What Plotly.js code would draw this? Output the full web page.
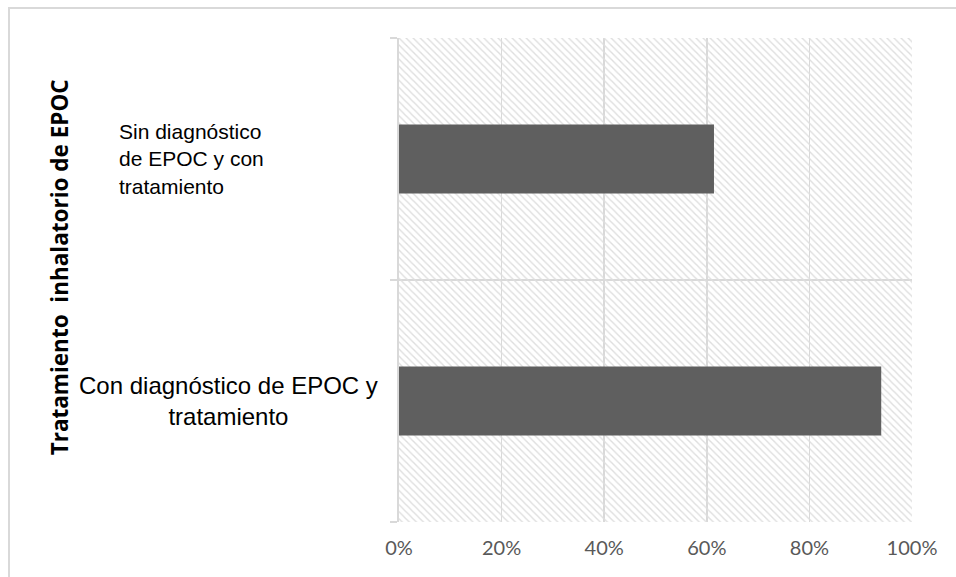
<!DOCTYPE html>
<html>
<head>
<meta charset="utf-8">
<script src="https://cdn.plot.ly/plotly-3.0.1.min.js"></script>
<style>
  html, body { margin: 0; padding: 0; background: #ffffff; }
  #chart { width: 956px; height: 577px; position: relative; }
  /* thin frame around the chart area (top and left edges) */
  #frame {
    position: absolute; left: 8px; top: 7px; right: -4px; bottom: -4px;
    border-top: 2px solid #d9d9d9; border-left: 2px solid #d9d9d9;
    pointer-events: none;
  }
</style>
</head>
<body>
<div id="chart"></div>
<div id="frame"></div>
<script>
// Categories, bottom to top
const categories = [
  "Con diagnóstico de EPOC y tratamiento",
  "Sin diagnóstico de EPOC y con tratamiento"
];
// Category labels as displayed (with line breaks)
const categoryLabels = [
  "Con diagnóstico de EPOC y<br>tratamiento",
  "Sin diagnóstico<br>de EPOC y con<br>tratamiento"
];
// Share of patients (fraction)
const shares = [0.94, 0.614];

// Axis ticks
const tickValues = [0, 0.2, 0.4, 0.6, 0.8, 1.0];
const tickLabels = ["0%", "20%", "40%", "60%", "80%", "100%"];
const axisMax = 1.0;

const yTitle = "Tratamiento  inhalatorio de EPOC";

// Hatched plot background: one full-width band per category
const background = {
  type: "bar",
  orientation: "h",
  y: categories,
  x: categories.map(() => axisMax),
  width: 1,
  marker: {
    color: "rgba(0,0,0,0)",
    line: { width: 0 },
    pattern: {
      shape: "\\",
      fgcolor: "#dedede",
      bgcolor: "rgba(0,0,0,0)",
      size: 5,
      solidity: 0.28
    }
  },
  hoverinfo: "skip",
  showlegend: false
};

const bars = {
  type: "bar",
  orientation: "h",
  y: categories,
  x: shares,
  width: 0.285,
  marker: { color: "#5f5f5f", line: { width: 0 } },
  hovertemplate: "%{y}: %{x:.0%}<extra></extra>",
  showlegend: false
};

const labelAnnotations = [
  { y: categories[0], x: -0.3314, xanchor: "center", align: "center", text: categoryLabels[0], size: 24 },
  { y: categories[1], x: -0.5497, xanchor: "left", align: "left", text: categoryLabels[1], size: 21 }
].map(a => ({
  xref: "paper", yref: "y", yanchor: "middle", showarrow: false,
  x: a.x, y: a.y, xanchor: a.xanchor, align: a.align, text: a.text,
  font: { family: "Liberation Sans, Arial, sans-serif", size: a.size, color: "#000000" }
}));

const layout = {
  width: 956,
  height: 577,
  margin: { l: 399, r: 44, t: 38, b: 55 },
  paper_bgcolor: "#ffffff",
  plot_bgcolor: "#ffffff",
  barmode: "overlay",
  showlegend: false,
  xaxis: {
    range: [0, axisMax],
    tickvals: tickValues,
    ticktext: tickLabels,
    showgrid: true,
    gridcolor: "#d9d9d9",
    gridwidth: 1.5,
    zeroline: false,
    showline: false,
    ticks: "",
    ticklabelstandoff: 12,
    tickfont: { family: "Lato, sans-serif", size: 20, color: "#595959" },
    fixedrange: true
  },
  yaxis: {
    type: "category",
    categoryorder: "array",
    categoryarray: categories,
    range: [-0.5, 1.5],
    tickson: "boundaries",
    showgrid: true,
    gridcolor: "#d9d9d9",
    gridwidth: 1.5,
    ticks: "outside",
    ticklen: 7,
    tickwidth: 1.5,
    tickcolor: "#d9d9d9",
    showticklabels: false,
    showline: true,
    linecolor: "#d9d9d9",
    linewidth: 2,
    zeroline: false,
    fixedrange: true
  },
  annotations: labelAnnotations.concat([{
    xref: "paper", yref: "paper",
    x: -0.661, y: 0.526,
    xanchor: "center", yanchor: "middle",
    textangle: -90,
    showarrow: false,
    text: "<b>" + yTitle + "</b>",
    font: { family: "Open Sans, sans-serif", size: 22.5, color: "#000000" }
  }])
};

Plotly.newPlot("chart", [background, bars], layout, { displayModeBar: false, staticPlot: true });
</script>
</body>
</html>
